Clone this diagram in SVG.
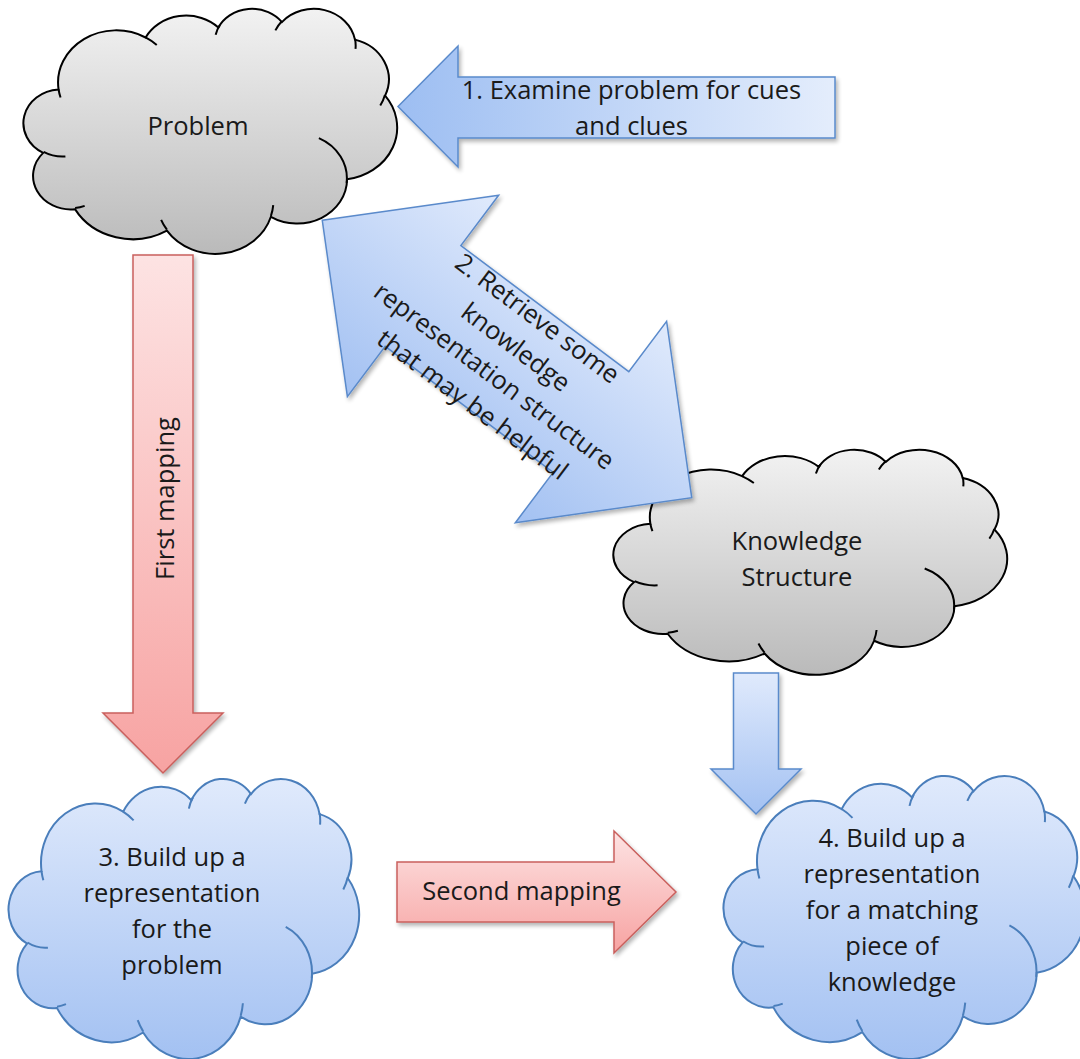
<svg xmlns="http://www.w3.org/2000/svg" xmlns:xlink="http://www.w3.org/1999/xlink" width="1080" height="1059" viewBox="0 0 1080 1059">
  <style>
    .label { font-family: "Open Sans", "Liberation Sans", sans-serif; font-size: 25.5px; fill: #1a1a1a; text-anchor: middle; }
    .gray-cloud { fill: url(#grayFill); stroke: #000000; stroke-width: 2; }
    .gray-cloud-inner { fill: none; stroke: #000000; stroke-width: 2; }
    .blue-cloud { fill: url(#blueCloudFill); stroke: #4a7ebb; stroke-width: 2; }
    .blue-cloud-inner { fill: none; stroke: #4a7ebb; stroke-width: 2; }
    .blue-arrow { stroke: #5a8acb; stroke-width: 1.5; stroke-linejoin: miter; }
    .red-arrow { fill: url(#redFillV); stroke: #c9605d; stroke-width: 1.5; stroke-linejoin: miter; }
  </style>
  <defs>
    <linearGradient id="grayFill" x1="0" y1="0" x2="0" y2="1">
      <stop offset="0" stop-color="#f2f2f2"/>
      <stop offset="1" stop-color="#bababa"/>
    </linearGradient>
    <linearGradient id="blueCloudFill" x1="0" y1="0" x2="0" y2="1">
      <stop offset="0" stop-color="#e0eafc"/>
      <stop offset="1" stop-color="#a3c1f2"/>
    </linearGradient>
    <linearGradient id="blueFillH" x1="0" y1="0" x2="1" y2="0">
      <stop offset="0" stop-color="#9dbef2"/>
      <stop offset="1" stop-color="#e4edfc"/>
    </linearGradient>
    <linearGradient id="blueFillV" x1="0" y1="0" x2="0" y2="1">
      <stop offset="0" stop-color="#e0eafc"/>
      <stop offset="1" stop-color="#a3c1f2"/>
    </linearGradient>
    <linearGradient id="redFillV" x1="0" y1="0" x2="0" y2="1">
      <stop offset="0" stop-color="#fde3e3"/>
      <stop offset="1" stop-color="#f7a3a2"/>
    </linearGradient>
    <filter id="shadow" x="-15%" y="-15%" width="140%" height="140%">
      <feGaussianBlur in="SourceAlpha" stdDeviation="2"/>
      <feOffset dx="2" dy="3"/>
      <feComponentTransfer><feFuncA type="linear" slope="0.3"/></feComponentTransfer>
      <feMerge><feMergeNode/><feMergeNode in="SourceGraphic"/></feMerge>
    </filter>
    <!-- cloud outline in a 43200 x 43200 unit box -->
    <path id="cloud-outline" vector-effect="non-scaling-stroke" d="M3900 14370 A6753 9190 0 0 1 14005 5202 A5333 7267 0 0 1 22456 3433 A4365 5945 0 0 1 29833 2481 A4857 6595 0 0 1 38318 5576 A5333 7273 0 0 1 41818 15460 A6775 9220 0 0 1 37404 30204 A5785 7867 0 0 1 28556 36814 A6752 9215 0 0 1 16480 39264 A7720 10543 0 0 1 5805 35470 A4360 5918 0 0 1 2113 25549 A4345 5945 0 0 1 3900 14370 Z"/>
    <!-- short inner arcs where the puffs overlap -->
    <path id="cloud-inner" vector-effect="non-scaling-stroke" d="M4693 26177 A4345 5945 0 0 1 2160 25380 M6928 34899 A4360 5918 0 0 1 5820 35280 M16478 39090 A6752 9215 0 0 1 15810 37350 M28827 34751 A6752 9215 0 0 1 28560 36660 M34129 22954 A5785 7867 0 0 1 37351 30817 M41798 15354 A5333 7273 0 0 1 41256 17200 M38324 5426 A4857 6595 0 0 1 38381 7190 M29078 3952 A4857 6595 0 0 1 29826 2331 M22141 4720 A4365 5945 0 0 1 22631 3001 M14000 5192 A6753 9190 0 0 1 15300 6540 M4127 15789 A6753 9190 0 0 1 3900 14370"/>
  </defs>

  <rect width="1080" height="1059" fill="#ffffff"/>

  <!-- nodes -->
  <g id="problem">
    <g transform="translate(25 8) scale(0.0086111 0.0056713)">
      <use xlink:href="#cloud-outline" class="gray-cloud"/>
      <use xlink:href="#cloud-inner" class="gray-cloud-inner"/>
    </g>
    <text class="label" x="198" y="135">Problem</text>
  </g>

  <g id="knowledge-structure">
    <g transform="translate(615 449) scale(0.0090741 0.0052083)">
      <use xlink:href="#cloud-outline" class="gray-cloud"/>
      <use xlink:href="#cloud-inner" class="gray-cloud-inner"/>
    </g>
    <text class="label" x="797" y="550">Knowledge</text>
    <text class="label" x="797" y="586">Structure</text>
  </g>

  <g id="problem-representation">
    <g transform="translate(10 778) scale(0.0080787 0.0064815)">
      <use xlink:href="#cloud-outline" class="blue-cloud"/>
      <use xlink:href="#cloud-inner" class="blue-cloud-inner"/>
    </g>
    <text class="label" x="172" y="866">3. Build up a</text>
    <text class="label" x="172" y="902">representation</text>
    <text class="label" x="172" y="938">for the</text>
    <text class="label" x="172" y="974">problem</text>
  </g>

  <g id="knowledge-representation">
    <g transform="translate(725 775) scale(0.0083333 0.0065509)">
      <use xlink:href="#cloud-outline" class="blue-cloud"/>
      <use xlink:href="#cloud-inner" class="blue-cloud-inner"/>
    </g>
    <text class="label" x="892" y="847">4. Build up a</text>
    <text class="label" x="892" y="883">representation</text>
    <text class="label" x="892" y="919">for a matching</text>
    <text class="label" x="892" y="955">piece of</text>
    <text class="label" x="892" y="991">knowledge</text>
  </g>

  <!-- connectors -->
  <g id="connectors">
    <g id="examine-arrow">
      <polygon class="blue-arrow" filter="url(#shadow)" fill="url(#blueFillH)" points="398,106.5 458,46 458,77 835,77 835,138 458,138 458,167"/>
      <text class="label" x="631.5" y="98.5">1. Examine problem for cues</text>
      <text class="label" x="631.5" y="134.5">and clues</text>
    </g>

    <g id="retrieve-arrow">
      <g filter="url(#shadow)">
        <polygon class="blue-arrow" fill="url(#blueFillV)" transform="translate(507 359) rotate(36.9)" points="-231,0 -105,-126 -105,-63 105,-63 105,-126 231,0 105,126 105,63 -105,63 -105,126"/>
      </g>
      <g transform="translate(507 359) rotate(36.9)">
        <text class="label" x="0" y="-42">2. Retrieve some</text>
        <text class="label" x="0" y="-6">knowledge</text>
        <text class="label" x="0" y="30">representation structure</text>
        <text class="label" x="0" y="66">that may be helpful</text>
      </g>
    </g>

    <g id="first-mapping-arrow">
      <polygon class="red-arrow" filter="url(#shadow)" points="133,255 193,255 193,713 223,713 163,773 103,713 133,713"/>
      <text class="label" transform="translate(174 498.5) rotate(-90)" x="0" y="0">First mapping</text>
    </g>

    <g id="second-mapping-arrow">
      <polygon class="red-arrow" filter="url(#shadow)" points="397,862 614,862 614,831 676,892 614,953 614,922 397,922"/>
      <text class="label" x="521.5" y="900">Second mapping</text>
    </g>

    <g id="knowledge-down-arrow">
      <polygon class="blue-arrow" filter="url(#shadow)" fill="url(#blueFillV)" points="733.5,673 778.5,673 778.5,769 801,769 756,814 711,769 733.5,769"/>
    </g>
  </g>
</svg>
